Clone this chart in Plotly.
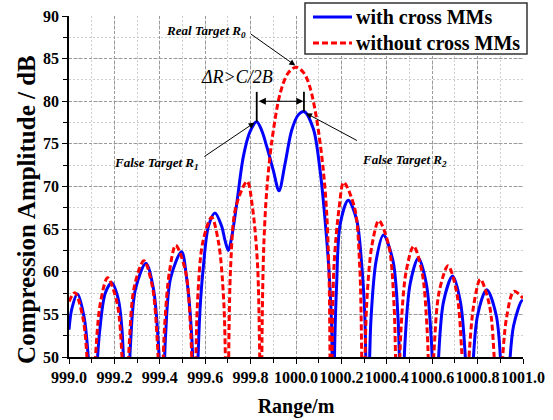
import plotly.graph_objects as go

# ---- data ----
range_red = [
    999.000, 999.026, 999.062, 999.085, 999.100,
    999.115, 999.138, 999.170, 999.212, 999.235, 999.250,
    999.265, 999.288, 999.330, 999.367, 999.390, 999.405,
    999.420, 999.443, 999.470, 999.513, 999.536, 999.551,
    999.566, 999.589, 999.628, 999.659, 999.682, 999.697,
    999.712, 999.735, 999.785, 999.808, 999.831, 999.846,
    999.851, 999.858, 999.871, 999.893, 999.930, 999.965, 1000.000,
    1000.035, 1000.062, 1000.091, 1000.120, 1000.136, 1000.146, 1000.154,
    1000.167, 1000.190, 1000.210, 1000.258, 1000.281, 1000.296,
    1000.311, 1000.334, 1000.365, 1000.409, 1000.432, 1000.447,
    1000.462, 1000.485, 1000.518, 1000.555, 1000.578, 1000.593,
    1000.608, 1000.631, 1000.670, 1000.707, 1000.730, 1000.745,
    1000.760, 1000.783, 1000.812, 1000.852, 1000.875, 1000.890,
    1000.905, 1000.928, 1000.960, 1001.000,
]
amp_red = [
    56.5, 57.55, 54.5, 47.5, 40,
    49.3, 56.3, 59.3, 56.3, 49.3, 40,
    51.3, 58.3, 61.3, 58.3, 51.3, 40,
    53.1, 60.1, 63.1, 60.1, 53.1, 40,
    56.4, 63.4, 66.4, 63.4, 56.4, 40,
    60.6, 67.6, 70.6, 67.6, 60.6, 40,
    54.0, 63.0, 69.5, 75.2, 80.9, 83.3, 84.0,
    83.3, 81.6, 77.9, 72.0, 66.5, 59.0, 40,
    60.5, 67.5, 70.5, 67.5, 60.5, 40,
    56.0, 63.0, 66.0, 63.0, 56.0, 40,
    53.0, 60.0, 63.0, 60.0, 53.0, 40,
    50.7, 57.7, 60.7, 57.7, 50.7, 40,
    49.1, 56.1, 59.1, 56.1, 49.1, 40,
    47.7, 54.7, 57.7, 56.9,
]

range_blue = [
    999.000, 999.012, 999.037, 999.067, 999.090, 999.105,
    999.120, 999.135, 999.160, 999.188, 999.217, 999.234, 999.255,
    999.270, 999.293, 999.339, 999.372, 999.395, 999.410,
    999.425, 999.448, 999.496, 999.518, 999.541, 999.556,
    999.566, 999.577, 999.592, 999.614, 999.643, 999.673, 999.687, 999.702,
    999.717, 999.739, 999.768, 999.797, 999.827, 999.850, 999.871, 999.900, 999.925,
    999.952, 999.981, 1000.010, 1000.035, 1000.076, 1000.106, 1000.128, 1000.147, 1000.157, 1000.163,
    1000.171, 1000.179, 1000.194, 1000.230, 1000.267, 1000.289, 1000.303, 1000.315,
    1000.330, 1000.353, 1000.385, 1000.427, 1000.450, 1000.465,
    1000.480, 1000.503, 1000.539, 1000.574, 1000.597, 1000.612,
    1000.627, 1000.650, 1000.690, 1000.724, 1000.747, 1000.762,
    1000.777, 1000.800, 1000.840, 1000.882, 1000.905, 1000.920,
    1000.935, 1000.958, 1000.995, 1001.000,
]
amp_blue = [
    53.2, 55.6, 57.4, 54.6, 48.0, 40,
    47.5, 53.0, 57.5, 58.7, 56.8, 53.0, 40,
    51.0, 58.0, 61.0, 58.0, 51.0, 40,
    52.3, 59.3, 62.35, 59.3, 52.3, 40,
    48.0, 55.5, 60.6, 65.3, 66.9, 65.3, 63.7, 62.5,
    64.1, 68.0, 73.5, 76.4, 77.6, 76.5, 74.7, 71.9, 69.5,
    72.7, 76.6, 78.4, 78.8, 76.8, 71.9, 66.1, 59.4, 53.6, 40,
    52.0, 58.5, 65.5, 68.4, 66.1, 61.0, 55.0, 40,
    54.3, 61.3, 64.3, 61.3, 54.3, 40,
    51.6, 58.6, 61.6, 58.6, 51.6, 40,
    49.5, 56.5, 59.5, 56.5, 49.5, 40,
    47.9, 54.9, 57.9, 54.9, 47.9, 40,
    46.6, 53.6, 56.6, 56.5,
]

series_names = ["with cross MMs", "without cross MMs"]
series_colors = ["#0000FF", "#FF0000"]

x_ticks = [999.0, 999.2, 999.4, 999.6, 999.8, 1000.0, 1000.2, 1000.4, 1000.6, 1000.8, 1001.0]
y_ticks = [50, 55, 60, 65, 70, 75, 80, 85, 90]

SERIF = "Liberation Serif, Times New Roman, serif"

fig = go.Figure()
fig.add_trace(go.Scatter(
    x=range_blue, y=amp_blue, mode="lines", name=series_names[0], showlegend=False,
    line=dict(color=series_colors[0], width=3, shape="spline", smoothing=0.9),
))
fig.add_trace(go.Scatter(
    x=range_red, y=amp_red, mode="lines", name=series_names[1], showlegend=False,
    line=dict(color=series_colors[1], width=3, dash="6px,3px", shape="spline", smoothing=0.9),
))

tickfont = dict(family=SERIF, size=16, color="black", weight="bold")
fig.update_xaxes(
    range=[999.0, 1001.0], tickvals=x_ticks, ticktext=[f"{v:.1f}" for v in x_ticks],
    tickangle=0, automargin=False,
    showline=True, linecolor="black", linewidth=1.5, mirror=False,
    ticks="outside", ticklen=5, tickwidth=1.2, tickcolor="black",
    showgrid=True, gridcolor="#9a9a9a", gridwidth=1, griddash="3px,2px",
    minor=dict(dtick=0.1, tick0=999.0, ticks="outside", ticklen=4, tickcolor="black",
               showgrid=True, gridcolor="#cfcfcf", gridwidth=1, griddash="2px,2px"),
    zeroline=False, tickfont=tickfont,
    title=dict(text="Range/m", font=dict(family=SERIF, size=20, color="black", weight="bold"), standoff=14),
)
fig.update_yaxes(
    range=[50, 90], tickvals=y_ticks, automargin=False,
    showline=True, linecolor="black", linewidth=1.5, mirror=False,
    ticks="outside", ticklen=5, tickwidth=1.2, tickcolor="black",
    showgrid=True, gridcolor="#9a9a9a", gridwidth=1, griddash="3px,2px",
    minor=dict(dtick=2.5, tick0=50, ticks="outside", ticklen=4, tickcolor="black",
               showgrid=True, gridcolor="#cfcfcf", gridwidth=1, griddash="2px,2px"),
    zeroline=False, tickfont=tickfont,
)

ann_font = dict(family=SERIF, size=13, color="black", weight="bold", style="italic")
annotations = [
    # y-axis title (placed as rotated text, centred where the reference has it)
    dict(x=-0.095, y=0.434, xref="paper", yref="paper", text="Compression Amplitude / dB",
         textangle=-90, showarrow=False, xanchor="center", yanchor="middle",
         font=dict(family=SERIF, size=25, color="black", weight="bold")),
    dict(x=999.79, y=88.2, xref="x", yref="y", text="Real Target R<sub>0</sub>", showarrow=False,
         xanchor="right", yanchor="middle", font=ann_font),
    dict(x=999.997, y=84.2, ax=999.795, ay=88.0, xref="x", yref="y", axref="x", ayref="y",
         text="", showarrow=True, arrowhead=2, arrowsize=1.2, arrowwidth=1, arrowcolor="black"),
    dict(x=999.58, y=72.7, xref="x", yref="y", text="False Target R<sub>1</sub>", showarrow=False,
         xanchor="right", yanchor="middle", font=ann_font),
    dict(x=999.818, y=77.5, ax=999.59, ay=73.4, xref="x", yref="y", axref="x", ayref="y",
         text="", showarrow=True, arrowhead=2, arrowsize=1.2, arrowwidth=1, arrowcolor="black"),
    dict(x=1000.28, y=73.0, xref="x", yref="y", text="False Target R<sub>2</sub>", showarrow=False,
         xanchor="left", yanchor="middle", font=ann_font),
    dict(x=1000.044, y=78.6, ax=1000.275, ay=75.3, xref="x", yref="y", axref="x", ayref="y",
         text="", showarrow=True, arrowhead=2, arrowsize=1.2, arrowwidth=1, arrowcolor="black"),
    dict(x=999.74, y=82.8, xref="x", yref="y", text="ΔR>C/2B", showarrow=False,
         xanchor="center", yanchor="middle",
         font=dict(family=SERIF, size=18, color="black", style="italic")),
    dict(x=1000.033, y=80.0, ax=999.829, ay=80.0, xref="x", yref="y", axref="x", ayref="y",
         text="", showarrow=True, arrowhead=2, startarrowhead=2, arrowside="end+start",
         arrowsize=1.2, arrowwidth=1.2, arrowcolor="black"),
]

# hand-made legend box (paper coordinates)
leg_font = dict(family=SERIF, size=20, color="black", weight="bold")
annotations += [
    dict(x=0.628, y=0.997, xref="paper", yref="paper", text=series_names[0], showarrow=False,
         xanchor="left", yanchor="middle", font=leg_font),
    dict(x=0.628, y=0.921, xref="paper", yref="paper", text=series_names[1], showarrow=False,
         xanchor="left", yanchor="middle", font=leg_font),
]

shapes = [
    dict(type="line", xref="x", yref="y", x0=999.827, x1=999.827, y0=81.1, y1=77.6,
         line=dict(color="black", width=1.8)),
    dict(type="line", xref="x", yref="y", x0=1000.035, x1=1000.035, y0=81.1, y1=78.8,
         line=dict(color="black", width=1.8)),
    dict(type="rect", xref="paper", yref="paper", x0=0.5198, x1=1.0088, y0=0.8886, y1=1.0381,
         fillcolor="white", line=dict(color="#333333", width=1.5)),
    dict(type="line", xref="paper", yref="paper", x0=0.5374, x1=0.6233, y0=0.997, y1=0.997,
         line=dict(color=series_colors[0], width=3)),
    dict(type="line", xref="paper", yref="paper", x0=0.5374, x1=0.6233, y0=0.921, y1=0.921,
         line=dict(color=series_colors[1], width=3, dash="6px,3px")),
]

fig.update_layout(
    width=553, height=420,
    margin=dict(l=69, r=30, t=16, b=63, autoexpand=False),
    paper_bgcolor="white", plot_bgcolor="white",
    showlegend=False,
    annotations=annotations, shapes=shapes,
)

fig.write_html("out.html")
